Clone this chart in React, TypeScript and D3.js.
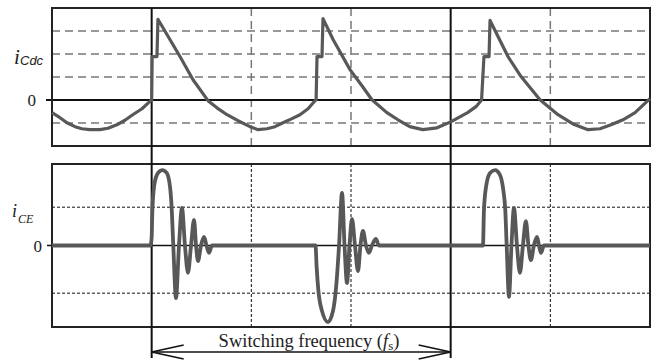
import React from "react";
import * as d3 from "d3";

// time axis in grid divisions (6 across), current in grid units
const gridX = [2, 3, 5];
const switchX = [1, 4];
const topGridY = [-1, 1, 2, 3];
const ceGridY = [0.94, -1.17];

// capacitor current i_Cdc
const cdcT = [0, 0.08, 0.15, 0.231, 0.3, 0.381, 0.48, 0.562, 0.65, 0.732, 0.81, 0.903, 0.98, 1.0,
  1.005, 1.053, 1.063, 1.284, 1.415, 1.565, 1.655, 1.756, 1.866, 1.987, 2.067, 2.157, 2.237, 2.318, 2.408, 2.488, 2.569, 2.639, 2.65,
  2.659, 2.709, 2.719, 2.82, 2.99, 3.11, 3.21, 3.36, 3.471, 3.59, 3.72, 3.863, 4.0, 4.17, 4.254, 4.31,
  4.334, 4.385, 4.395, 4.575, 4.706, 4.896, 5.077, 5.227, 5.378, 5.498, 5.609, 5.729, 5.85, 6.0];
const cdcI = [-0.55, -0.77, -0.99, -1.16, -1.25, -1.29, -1.29, -1.23, -1.08, -0.88, -0.64, -0.38, -0.07, 0,
  1.89, 1.89, 3.51, 1.89, 0.88, -0.03, -0.34, -0.64, -0.9, -1.16, -1.29, -1.25, -1.16, -0.99, -0.81, -0.64, -0.38, -0.03, 0,
  1.89, 1.89, 3.54, 2.63, 1.32, 0.62, 0.01, -0.55, -0.86, -1.16, -1.29, -1.21, -0.95, -0.55, -0.29, 0,
  1.89, 1.89, 3.46, 1.89, 1.02, 0.01, -0.64, -1.04, -1.29, -1.25, -1.08, -0.86, -0.55, 0.06];

// switch current i_CE
const ceT = [0, 0.988, 1.0, 1.007, 1.03, 1.067, 1.107, 1.151, 1.184, 1.2, 1.217, 1.244, 1.274, 1.304, 1.334, 1.364, 1.395, 1.425, 1.445, 1.465, 1.495, 1.525, 1.55, 1.575, 1.605,
  2.644, 2.655, 2.672, 2.706, 2.769, 2.82, 2.855, 2.88, 2.91, 2.935, 2.96, 2.985, 3.01, 3.04, 3.07, 3.095, 3.12, 3.15, 3.18, 3.21, 3.25, 3.28,
  4.324, 4.334, 4.355, 4.395, 4.445, 4.495, 4.528, 4.548, 4.562, 4.585, 4.61, 4.635, 4.665, 4.695, 4.725, 4.755, 4.78, 4.805, 4.835, 4.866, 4.886, 4.906, 4.936, 6.0];
const ceI = [0, 0, 0.2, 0.87, 1.54, 1.79, 1.85, 1.78, 1.44, 0.95, 0, -1.29, 0, 0.92, 0, -0.67, 0, 0.63, 0, -0.38, 0, 0.21, 0, -0.18, 0,
  0, -0.52, -1.09, -1.58, -1.88, -1.6, -0.9, 0, 1.29, 0, -0.92, 0, 0.65, 0, -0.63, 0, 0.36, 0, -0.18, 0, 0.16, 0,
  0, 0.87, 1.44, 1.78, 1.85, 1.73, 1.36, 0.87, 0, -1.26, 0, 0.92, 0, -0.67, 0, 0.6, 0, -0.36, 0, 0.21, 0, -0.18, 0, 0];

const serif = '"Liberation Serif", "DejaVu Serif", "Times New Roman", serif';
const sans = '"Liberation Sans", Arial, sans-serif';

export default function App() {
  const x = d3.scaleLinear().domain([0, 6]).range([52, 650]);
  const yTop = d3.scaleLinear().domain([-2, 4]).range([146, 8]);
  const yCe = d3.scaleLinear().domain([-2, 2]).range([327, 164]);

  const cdcLine = d3
    .line<number>()
    .x((d, i) => x(cdcT[i]))
    .y(d => yTop(d))(cdcI);

  const ceLine = d3
    .line<number>()
    .x((d, i) => x(ceT[i]))
    .y(d => yCe(d))
    .curve(d3.curveMonotoneX)(ceI);

  const [x0, x1] = x.range();
  const arrowY = 352;
  const a0 = x(switchX[0]);
  const a1 = x(switchX[1]);

  return (
    <svg
      width={658}
      height={361}
      style={{ position: "absolute", left: 0, top: 0, background: "#fff" }}
    >
      {/* top panel */}
      {topGridY.map(v => (
        <line key={"ty" + v} x1={x0} x2={x1} y1={yTop(v)} y2={yTop(v)}
          stroke="#777" strokeWidth={1.5} strokeDasharray="8,5" />
      ))}
      {gridX.map(v => (
        <line key={"tx" + v} x1={x(v)} x2={x(v)} y1={yTop(4)} y2={yTop(-2)}
          stroke="#777" strokeWidth={1.5} strokeDasharray="8,5" />
      ))}
      <line x1={x0 - 6} x2={x1} y1={yTop(0)} y2={yTop(0)} stroke="#111" strokeWidth={2} />
      <rect x={x0} y={yTop(4)} width={x1 - x0} height={yTop(-2) - yTop(4)}
        fill="none" stroke="#222" strokeWidth={2} />

      {/* bottom panel */}
      {ceGridY.map(v => (
        <line key={"cy" + v} x1={x0} x2={x1} y1={yCe(v)} y2={yCe(v)}
          stroke="#111" strokeWidth={1} strokeDasharray="3,2" />
      ))}
      {gridX.map(v => (
        <line key={"cx" + v} x1={x(v)} x2={x(v)} y1={yCe(2)} y2={yCe(-2)}
          stroke="#111" strokeWidth={1} strokeDasharray="3,2" />
      ))}
      <line x1={x0 - 5} x2={x1} y1={yCe(0)} y2={yCe(0)} stroke="#111" strokeWidth={1.5} />
      <rect x={x0} y={yCe(2)} width={x1 - x0} height={yCe(-2) - yCe(2)}
        fill="none" stroke="#222" strokeWidth={2} />

      {/* switching instants */}
      {switchX.map(v => (
        <line key={"s" + v} x1={x(v)} x2={x(v)} y1={yTop(4)} y2={358}
          stroke="#111" strokeWidth={2} />
      ))}

      {/* waveforms */}
      <path d={cdcLine || ""} fill="none" stroke="#585858" strokeWidth={3.2} strokeLinejoin="round" />
      <path d={ceLine || ""} fill="none" stroke="#585858" strokeWidth={3.8} strokeLinejoin="round" />

      {/* labels */}
      <text x={14} y={64} fontFamily={serif} fontStyle="italic" fontSize={21} fill="#222">i</text>
      <text x={20} y={65} fontFamily={sans} fontStyle="italic" fontSize={13} fill="#222">Cdc</text>
      <text x={36} y={106} fontFamily={serif} fontSize={17} textAnchor="end" fill="#222">0</text>

      <text x={12} y={217} fontFamily={serif} fontStyle="italic" fontSize={18} fill="#222">i</text>
      <text x={18} y={223} fontFamily={serif} fontStyle="italic" fontSize={12} fill="#222">CE</text>
      <text x={42} y={252} fontFamily={serif} fontSize={17} textAnchor="end" fill="#222">0</text>

      {/* switching period arrow */}
      <line x1={a0} x2={a1} y1={arrowY} y2={arrowY} stroke="#111" strokeWidth={1.5} />
      <polyline points={`${a0 + 32},${arrowY - 7} ${a0},${arrowY} ${a0 + 32},${arrowY + 7}`}
        fill="none" stroke="#111" strokeWidth={1.5} />
      <polyline points={`${a1 - 32},${arrowY - 7} ${a1},${arrowY} ${a1 - 32},${arrowY + 7}`}
        fill="none" stroke="#111" strokeWidth={1.5} />
      <text x={309} y={347} fontFamily={serif} fontSize={18.5} textAnchor="middle" fill="#222">
        Switching frequency (<tspan fontStyle="italic">f</tspan>
        <tspan fontSize={13} dy={3}>s</tspan>
        <tspan dy={-3}>)</tspan>
      </text>
    </svg>
  );
}
